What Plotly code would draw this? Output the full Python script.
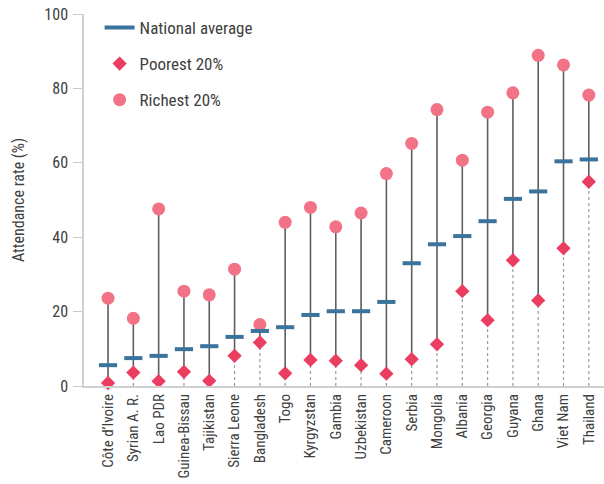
import plotly.graph_objects as go

countries = ["Côte d’Ivoire", "Syrian A. R.", "Lao PDR", "Guinea-Bissau", "Tajikistan",
             "Sierra Leone", "Bangladesh", "Togo", "Kyrgyzstan", "Gambia", "Uzbekistan",
             "Cameroon", "Serbia", "Mongolia", "Albania", "Georgia", "Guyana", "Ghana",
             "Viet Nam", "Thailand"]
national_avg = [5.6, 7.5, 8.1, 9.9, 10.7, 13.2, 14.8, 15.8, 19.1, 20.1, 20.1,
                22.6, 33.0, 38.1, 40.3, 44.3, 50.3, 52.3, 60.4, 60.9]
poorest = [0.8, 3.6, 1.3, 3.8, 1.4, 8.1, 11.7, 3.4, 7.0, 6.8, 5.6,
           3.3, 7.2, 11.2, 25.5, 17.7, 33.8, 23.0, 37.0, 54.9]
richest = [23.6, 18.2, 47.6, 25.5, 24.5, 31.4, 16.5, 44.0, 48.0, 42.8, 46.5,
           57.1, 65.2, 74.3, 60.7, 73.6, 78.8, 88.9, 86.3, 78.2]
y_ticks = [0, 20, 40, 60, 80, 100]

FONT = "Roboto Condensed, Liberation Sans Narrow, DejaVu Sans Condensed, Roboto, sans-serif"
TXT = "#404040"
BLUE = "#3a739b"
PINK_D = "#eb3d60"
PINK_C = "#f27386"

# connector segments
sx, sy, dx, dy = [], [], [], []
for c, p, r in zip(countries, poorest, richest):
    sx += [c, c, None]
    sy += [p, r, None]
    dx += [c, c, None]
    dy += [0, p, None]

fig = go.Figure()
fig.add_trace(go.Scatter(x=dx, y=dy, mode="lines", showlegend=False, hoverinfo="skip",
                         line=dict(color="#9a9a9a", width=1.2, dash="dot")))
fig.add_trace(go.Scatter(x=sx, y=sy, mode="lines", showlegend=False, hoverinfo="skip",
                         line=dict(color="#5e5e5e", width=1.6)))
fig.add_trace(go.Scatter(x=countries, y=richest, mode="markers", name="Richest 20%",
                         legendgroup="c", legendrank=3, cliponaxis=False,
                         marker=dict(symbol="circle", size=13, color=PINK_C)))
fig.add_trace(go.Scatter(x=countries, y=poorest, mode="markers", name="Poorest 20%",
                         legendgroup="b", legendrank=2, cliponaxis=False,
                         marker=dict(symbol="diamond", size=11, color=PINK_D)))
fig.add_trace(go.Scatter(x=countries, y=national_avg, mode="markers", name="National average",
                         showlegend=False, cliponaxis=False,
                         marker=dict(symbol="line-ew", size=13,
                                     line=dict(color=BLUE, width=4))))
fig.add_trace(go.Scatter(x=[None], y=[None], mode="lines", name="National average",
                         legendgroup="a", legendrank=1,
                         line=dict(color=BLUE, width=4)))

fig.update_layout(
    width=604, height=484,
    margin=dict(l=84, r=0, t=14, b=98, autoexpand=False),
    paper_bgcolor="white", plot_bgcolor="white",
    font=dict(family=FONT, size=16, color=TXT),
    legend=dict(x=0.03, y=1.011, xanchor="left", yanchor="top",
                tracegroupgap=11, bgcolor="rgba(0,0,0,0)",
                font=dict(family=FONT, size=17, color=TXT)),
    xaxis=dict(type="category", range=[-0.95, 19.6], showgrid=False, automargin=False,
               showline=True, linecolor="#d0d0d0", linewidth=2,
               ticks="", tickangle=-90, tickfont=dict(size=15, color=TXT),
               zeroline=False),
    yaxis=dict(range=[0, 100], tickvals=y_ticks, showgrid=False, zeroline=False,
               automargin=False,
               showline=True, linecolor="#d0d0d0", linewidth=1.5,
               ticks="outside", ticklen=9, tickcolor="#c8c8c8", tickwidth=1.2,
               tickfont=dict(size=16, color=TXT), ticklabelstandoff=2,
               title=dict(text="Attendance rate (%)", font=dict(size=16, color=TXT),
                          standoff=16)),
)

fig.write_html("out.html", config={"displayModeBar": False},
               post_script="document.body.style.margin='0';document.body.style.padding='0';")
